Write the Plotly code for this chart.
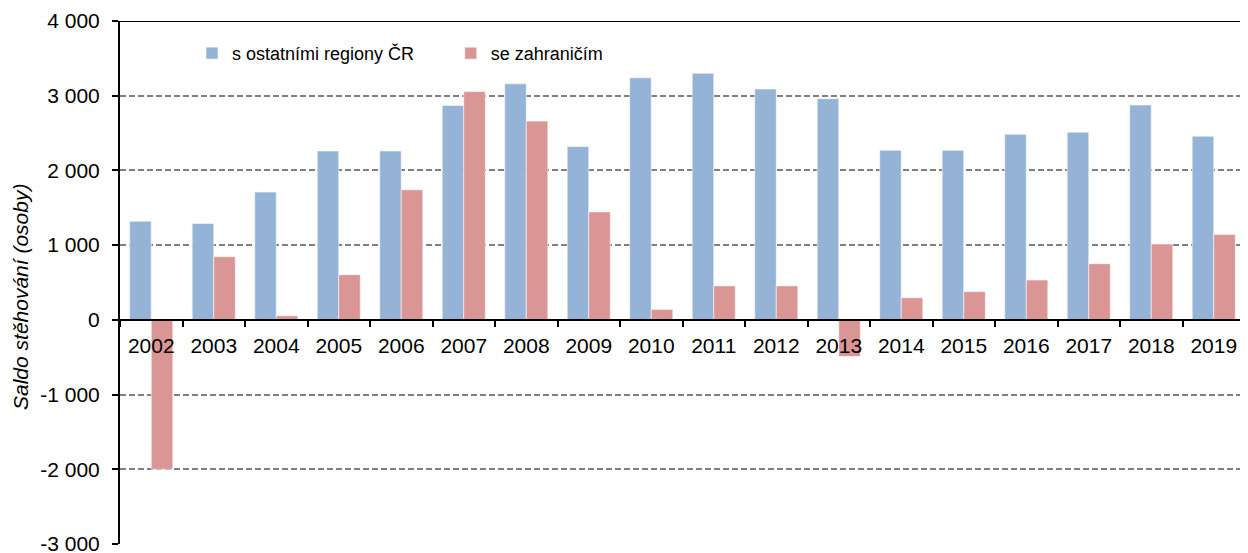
import plotly.graph_objects as go

years = ["2002", "2003", "2004", "2005", "2006", "2007", "2008", "2009", "2010",
         "2011", "2012", "2013", "2014", "2015", "2016", "2017", "2018", "2019"]
regiony = [1320, 1290, 1710, 2260, 2260, 2870, 3160, 2320, 3240,
           3300, 3090, 2960, 2270, 2270, 2485, 2512, 2876, 2458]
zahranici = [-2000, 845, 55, 605, 1740, 3055, 2660, 1445, 140,
             455, 455, -490, 296, 378, 533, 752, 1015, 1144]
y_tickvals = [-3000, -2000, -1000, 0, 1000, 2000, 3000, 4000]
y_ticktext = ["-3 000", "-2 000", "-1 000", "0", "1 000", "2 000", "3 000", "4 000"]

name1 = "s ostatními regiony ČR"
name2 = "se zahraničím"
ytitle = "Saldo stěhování (osoby)"

FONT = "Liberation Sans, Arial, sans-serif"

fig = go.Figure()
fig.add_trace(go.Bar(
    x=years, y=regiony, name=name1,
    marker=dict(color="#95B3D7", line=dict(color="rgba(255,255,255,0.55)", width=1)),
    legend="legend",
))
fig.add_trace(go.Bar(
    x=years, y=zahranici, name=name2,
    marker=dict(color="#D99694", line=dict(color="rgba(255,255,255,0.55)", width=1)),
    legend="legend2",
))

# page body has an 8px margin: figure occupies x 8..1248, y 8..553
fig.update_layout(
    width=1240, height=545,
    margin=dict(l=112, r=3, t=13, b=9, autoexpand=False),
    paper_bgcolor="white", plot_bgcolor="white",
    barmode="group", bargap=0.31, bargroupgap=0,
    font=dict(family=FONT, color="black", size=21),
    showlegend=True,
    legend=dict(orientation="h", x=0.064, y=0.938, xanchor="left", yanchor="middle",
                font=dict(size=18, family=FONT), bgcolor="rgba(0,0,0,0)",
                itemwidth=30),
    legend2=dict(orientation="h", x=0.294, y=0.938, xanchor="left", yanchor="middle",
                 font=dict(size=18, family=FONT), bgcolor="rgba(0,0,0,0)",
                 itemwidth=30),
    xaxis=dict(
        type="category", anchor="free", position=3/7, automargin=False,
        showline=True, linecolor="black", linewidth=2,
        ticks="outside", tickson="boundaries", ticklen=6, tickwidth=2, tickcolor="black",
        showgrid=False, zeroline=False,
        tickfont=dict(size=21, family=FONT, color="black"),
        ticklabelstandoff=7,
        range=[-0.5, 17.5],
    ),
    yaxis=dict(
        range=[-3000, 4000], automargin=False,
        tickvals=y_tickvals, ticktext=y_ticktext,
        showline=True, linecolor="black", linewidth=2,
        ticks="outside", ticklen=6, tickwidth=2, tickcolor="black",
        showgrid=True, gridcolor="#808080", gridwidth=1.5, griddash="6px,3px",
        zeroline=False,
        tickfont=dict(size=21, family=FONT, color="black"),
        ticklabelstandoff=8, ticklabeloverflow="allow",
    ),
    annotations=[dict(
        text=ytitle, textangle=-90, xref="paper", yref="paper",
        x=(20 - 120) / 1125, y=(544 - 297) / 523, xanchor="center", yanchor="middle",
        showarrow=False, font=dict(size=21, family=FONT, color="black", style="italic"),
    )],
    shapes=[dict(type="line", xref="paper", yref="y", x0=0, x1=1, y0=4000, y1=4000,
                 line=dict(color="black", width=2), layer="above")],
)

fig.write_html("out.html")
